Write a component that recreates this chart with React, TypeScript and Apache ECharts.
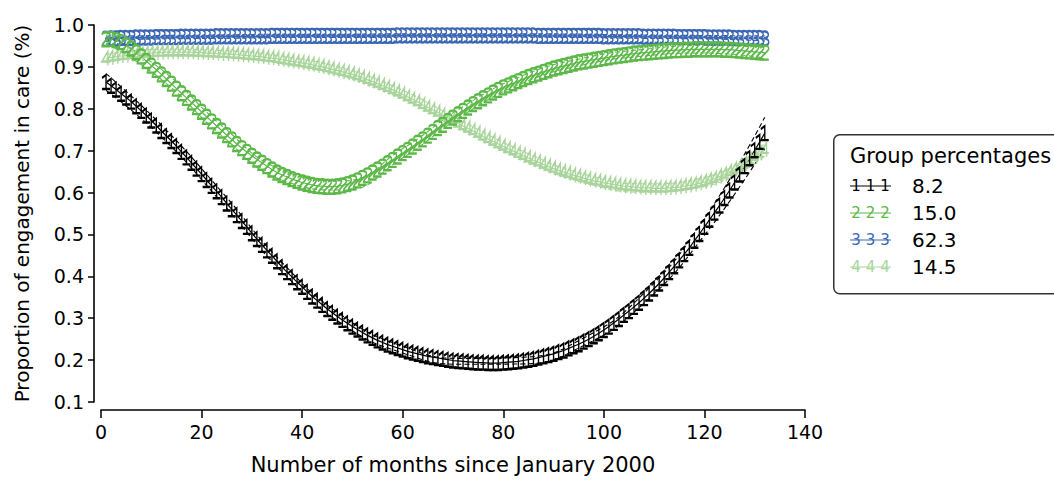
import React, { useEffect, useRef } from "react";
import * as echarts from "echarts";

const months: number[] = Array.from({ length: 132 }, (_, i) => i + 1);

const group1: number[] = [
  0.864, 0.855, 0.846, 0.836, 0.827, 0.817, 0.806, 0.795, 0.784, 0.772,
  0.760, 0.747, 0.735, 0.723, 0.711, 0.697, 0.684, 0.671, 0.657, 0.644,
  0.630, 0.616, 0.603, 0.589, 0.574, 0.560, 0.546, 0.532, 0.518, 0.503,
  0.489, 0.475, 0.462, 0.449, 0.436, 0.422, 0.410, 0.398, 0.386, 0.375,
  0.363, 0.352, 0.342, 0.332, 0.322, 0.313, 0.304, 0.296, 0.288, 0.280,
  0.273, 0.266, 0.259, 0.253, 0.247, 0.242, 0.237, 0.233, 0.229, 0.225,
  0.221, 0.218, 0.215, 0.212, 0.209, 0.207, 0.205, 0.203, 0.201, 0.199,
  0.198, 0.197, 0.196, 0.195, 0.194, 0.194, 0.193, 0.193, 0.193, 0.194,
  0.195, 0.196, 0.197, 0.199, 0.201, 0.203, 0.206, 0.209, 0.212, 0.215,
  0.219, 0.223, 0.228, 0.233, 0.238, 0.244, 0.250, 0.257, 0.264, 0.272,
  0.280, 0.289, 0.298, 0.308, 0.317, 0.327, 0.337, 0.348, 0.359, 0.371,
  0.383, 0.396, 0.410, 0.424, 0.438, 0.453, 0.468, 0.485, 0.501, 0.518,
  0.535, 0.552, 0.569, 0.587, 0.605, 0.624, 0.643, 0.663, 0.682, 0.701,
  0.721, 0.742,
];

const group2: number[] = [
  0.966, 0.967, 0.964, 0.959, 0.952, 0.944, 0.935, 0.925, 0.914, 0.903,
  0.893, 0.882, 0.871, 0.860, 0.848, 0.837, 0.826, 0.815, 0.804, 0.793,
  0.781, 0.770, 0.759, 0.748, 0.737, 0.727, 0.716, 0.706, 0.697, 0.688,
  0.679, 0.671, 0.663, 0.655, 0.648, 0.642, 0.637, 0.632, 0.628, 0.624,
  0.621, 0.618, 0.616, 0.615, 0.614, 0.614, 0.615, 0.617, 0.620, 0.624,
  0.629, 0.635, 0.641, 0.648, 0.655, 0.662, 0.670, 0.678, 0.686, 0.694,
  0.702, 0.710, 0.719, 0.727, 0.736, 0.745, 0.754, 0.762, 0.771, 0.779,
  0.787, 0.795, 0.803, 0.811, 0.818, 0.825, 0.832, 0.839, 0.845, 0.851,
  0.856, 0.861, 0.866, 0.871, 0.876, 0.880, 0.884, 0.888, 0.892, 0.896,
  0.899, 0.902, 0.905, 0.908, 0.911, 0.913, 0.915, 0.917, 0.919, 0.921,
  0.923, 0.925, 0.927, 0.928, 0.930, 0.932, 0.933, 0.934, 0.935, 0.936,
  0.937, 0.938, 0.939, 0.940, 0.940, 0.941, 0.941, 0.942, 0.942, 0.942,
  0.942, 0.942, 0.942, 0.941, 0.941, 0.940, 0.939, 0.938, 0.937, 0.936,
  0.935, 0.934,
];

const group3: number[] = [
  0.967, 0.968, 0.968, 0.969, 0.969, 0.969, 0.970, 0.970, 0.970, 0.970,
  0.971, 0.971, 0.971, 0.971, 0.971, 0.972, 0.972, 0.972, 0.972, 0.972,
  0.972, 0.972, 0.973, 0.973, 0.973, 0.973, 0.973, 0.973, 0.973, 0.973,
  0.973, 0.973, 0.973, 0.974, 0.974, 0.974, 0.974, 0.974, 0.974, 0.974,
  0.974, 0.974, 0.974, 0.974, 0.974, 0.974, 0.974, 0.974, 0.974, 0.974,
  0.974, 0.974, 0.974, 0.974, 0.974, 0.974, 0.974, 0.974, 0.975, 0.975,
  0.975, 0.975, 0.975, 0.975, 0.975, 0.975, 0.975, 0.975, 0.975, 0.975,
  0.975, 0.975, 0.975, 0.975, 0.975, 0.975, 0.975, 0.975, 0.975, 0.975,
  0.975, 0.975, 0.975, 0.975, 0.975, 0.975, 0.974, 0.974, 0.974, 0.974,
  0.974, 0.974, 0.974, 0.974, 0.974, 0.974, 0.974, 0.974, 0.974, 0.973,
  0.973, 0.973, 0.973, 0.973, 0.973, 0.973, 0.973, 0.972, 0.972, 0.972,
  0.972, 0.972, 0.972, 0.972, 0.971, 0.971, 0.971, 0.971, 0.971, 0.971,
  0.970, 0.970, 0.970, 0.970, 0.970, 0.969, 0.969, 0.969, 0.969, 0.969,
  0.969, 0.968,
];

const group4: number[] = [
  0.920, 0.922, 0.924, 0.926, 0.927, 0.929, 0.930, 0.931, 0.932, 0.933,
  0.934, 0.934, 0.935, 0.935, 0.935, 0.935, 0.935, 0.935, 0.934, 0.934,
  0.933, 0.933, 0.932, 0.931, 0.931, 0.930, 0.929, 0.928, 0.927, 0.926,
  0.925, 0.924, 0.922, 0.921, 0.919, 0.917, 0.915, 0.913, 0.911, 0.909,
  0.907, 0.905, 0.902, 0.900, 0.897, 0.894, 0.891, 0.888, 0.885, 0.882,
  0.878, 0.874, 0.869, 0.865, 0.860, 0.855, 0.850, 0.845, 0.840, 0.834,
  0.828, 0.822, 0.816, 0.809, 0.803, 0.797, 0.791, 0.784, 0.778, 0.772,
  0.765, 0.759, 0.753, 0.747, 0.741, 0.734, 0.728, 0.722, 0.716, 0.710,
  0.704, 0.699, 0.693, 0.688, 0.682, 0.677, 0.672, 0.667, 0.662, 0.657,
  0.653, 0.649, 0.645, 0.641, 0.638, 0.634, 0.631, 0.628, 0.626, 0.623,
  0.621, 0.619, 0.617, 0.615, 0.614, 0.613, 0.612, 0.611, 0.611, 0.610,
  0.610, 0.610, 0.611, 0.612, 0.613, 0.615, 0.617, 0.619, 0.622, 0.625,
  0.629, 0.633, 0.638, 0.643, 0.649, 0.655, 0.662, 0.669, 0.677, 0.685,
  0.693, 0.702,
];

const ciMonths: number[] = [1, 12, 24, 36, 48, 60, 72, 84, 96, 108, 120, 132];
const group1Upper: number[] = [0.884, 0.761, 0.602, 0.433, 0.306, 0.233, 0.204, 0.207, 0.253, 0.360, 0.538, 0.780];
const group1Lower: number[] = [0.844, 0.733, 0.576, 0.411, 0.286, 0.217, 0.190, 0.191, 0.235, 0.336, 0.498, 0.705];
const group2Upper: number[] = [0.975, 0.894, 0.760, 0.654, 0.628, 0.705, 0.805, 0.880, 0.921, 0.942, 0.951, 0.947];
const group2Lower: number[] = [0.957, 0.870, 0.736, 0.630, 0.606, 0.683, 0.785, 0.862, 0.905, 0.926, 0.933, 0.921];
const group3Upper: number[] = [0.973, 0.975, 0.976, 0.978, 0.978, 0.979, 0.979, 0.979, 0.978, 0.976, 0.975, 0.974];
const group3Lower: number[] = [0.961, 0.967, 0.968, 0.970, 0.970, 0.971, 0.971, 0.971, 0.970, 0.968, 0.967, 0.962];
const group4Upper: number[] = [0.930, 0.942, 0.939, 0.925, 0.897, 0.844, 0.769, 0.698, 0.644, 0.621, 0.636, 0.717];
const group4Lower: number[] = [0.910, 0.926, 0.923, 0.909, 0.879, 0.824, 0.749, 0.678, 0.624, 0.601, 0.614, 0.687];

const groupLabels: string[] = ["1", "2", "3", "4"];
const groupPercentages: string[] = ["8.2", "15.0", "62.3", "14.5"];
const groupColors: string[] = ["#000000", "#5cb848", "#3a66b4", "#a9d59c"];

const legendTitle = "Group percentages";
const xName = "Number of months since January 2000";
const yName = "Proportion of engagement in care (%)";

const digitPaths: Record<string, string> = {
  "1": "path://M2,3L5,0L5,14M2,14L8,14",
  "2": "path://M1,3.5C1,0 9,0 9,3.5C9,6.5 1,10 1,14L9,14",
  "3": "path://M1,1.5C3,-0.5 9,0 9,3.5C9,6 6,7 4,7C6,7 9.5,8 9.5,10.5C9.5,14.5 2.5,14.5 0.5,12.5",
  "4": "path://M7,14L7,0L0.5,10L9.5,10",
};

const FONT = "'DejaVu Sans', 'Open Sans', sans-serif";

export default function App() {
  const ref = useRef<HTMLDivElement>(null);

  useEffect(() => {
    if (!ref.current) return;
    const chart = echarts.init(ref.current, null, { renderer: "svg" });

    const means = [group1, group2, group3, group4];
    const uppers = [group1Upper, group2Upper, group3Upper, group4Upper];
    const lowers = [group1Lower, group2Lower, group3Lower, group4Lower];
    const drawOrder = [2, 3, 1, 0];

    const series: any[] = [];
    drawOrder.forEach((g) => {
      const c = groupColors[g];
      [uppers[g], lowers[g]].forEach((arr) => {
        series.push({
          type: "line",
          data: ciMonths.map((m, i) => [m, arr[i]]),
          symbol: "none",
          smooth: true,
          lineStyle: { color: c, width: 1.1, type: [5, 3] },
          silent: true,
        });
      });
      series.push({
        type: "line",
        name: groupLabels[g],
        data: months.map((m, i) => [m, means[g][i]]),
        symbol: digitPaths[groupLabels[g]],
        symbolSize: [8, 14],
        showAllSymbol: true,
        lineStyle: { color: c, width: 1.2 },
        itemStyle: { color: "rgba(0,0,0,0)", borderColor: c, borderWidth: 1.8 },
        silent: true,
      });
    });

    const legendRows = [186, 213, 240, 267];
    const legendGraphics: any[] = [
      {
        type: "rect",
        left: 833,
        top: 134,
        shape: { width: 240, height: 159, r: 6 },
        style: { fill: "#ffffff", stroke: "#333333", lineWidth: 1.5 },
        z: 10,
      },
      {
        type: "text",
        left: 850,
        top: 145,
        style: { text: legendTitle, fill: "#000", font: `21px ${FONT}` },
        z: 11,
      },
    ];
    groupLabels.forEach((lab, i) => {
      const y = legendRows[i];
      legendGraphics.push({
        type: "line",
        shape: { x1: 850, y1: y, x2: 891, y2: y },
        style: { stroke: groupColors[i], lineWidth: 1.2 },
        z: 11,
      });
      [856, 870.5, 885].forEach((x) => {
        legendGraphics.push({
          type: "text",
          x,
          y,
          style: {
            text: lab,
            fill: groupColors[i],
            font: `15px ${FONT}`,
            align: "center",
            verticalAlign: "middle",
          },
          z: 11,
        });
      });
      legendGraphics.push({
        type: "text",
        x: 912,
        y,
        style: {
          text: groupPercentages[i],
          fill: "#000",
          font: `20px ${FONT}`,
          align: "left",
          verticalAlign: "middle",
        },
        z: 11,
      });
    });

    chart.setOption({
      animation: false,
      backgroundColor: "#ffffff",
      textStyle: { fontFamily: FONT },
      grid: { left: 101, right: 249, top: 25, bottom: 78, containLabel: false },
      xAxis: {
        type: "value",
        min: 0,
        max: 140,
        interval: 20,
        offset: 8,
        name: xName,
        nameLocation: "middle",
        nameGap: 44,
        nameTextStyle: { fontSize: 21, color: "#000", fontFamily: FONT },
        axisLine: { show: true, onZero: false, lineStyle: { color: "#000", width: 1.6 } },
        axisTick: { show: true, length: 8, lineStyle: { color: "#000", width: 1.5 } },
        axisLabel: { fontSize: 19, color: "#000", margin: 12, fontFamily: FONT },
        splitLine: { show: false },
      },
      yAxis: {
        type: "value",
        min: 0.1,
        max: 1.0,
        interval: 0.1,
        offset: 7,
        name: yName,
        nameLocation: "middle",
        nameGap: 62,
        nameTextStyle: { fontSize: 20, color: "#000", fontFamily: FONT },
        axisLine: { show: true, onZero: false, lineStyle: { color: "#000", width: 1.6 } },
        axisTick: { show: true, length: 6, lineStyle: { color: "#000", width: 1.5 } },
        axisLabel: {
          fontSize: 19,
          color: "#000",
          margin: 10,
          fontFamily: FONT,
          formatter: (v: number) => v.toFixed(1),
        },
        splitLine: { show: false },
      },
      series,
      graphic: legendGraphics,
    });

    return () => chart.dispose();
  }, []);

  return (
    <div
      ref={ref}
      style={{ position: "absolute", left: 0, top: 0, width: 1054, height: 480 }}
    />
  );
}
